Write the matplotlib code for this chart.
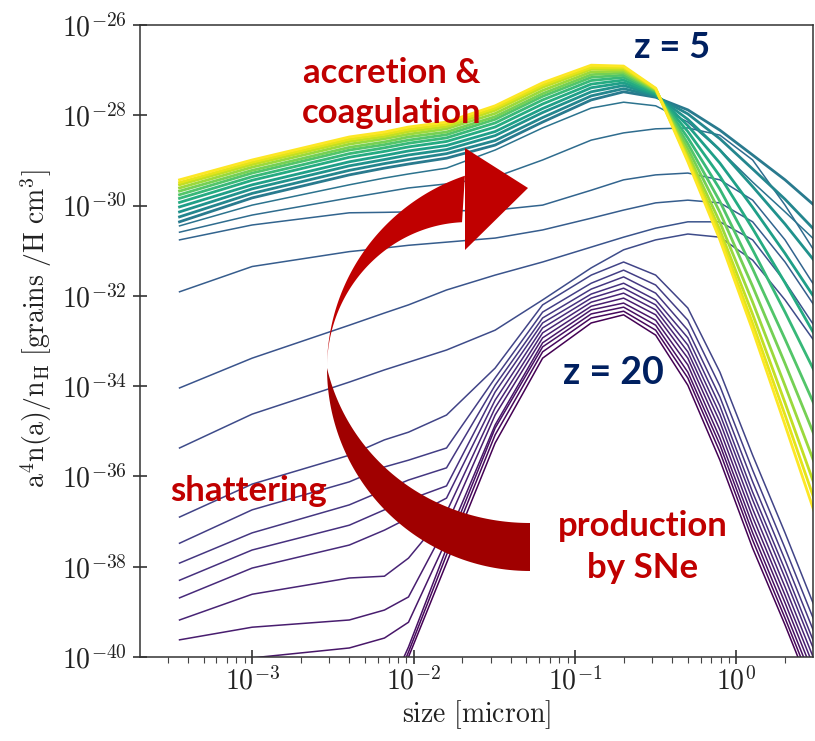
import numpy as np
import matplotlib.pyplot as plt
from matplotlib.patches import Polygon

nan = np.nan

# grain radius grid [micron]
size_micron = [3.55e-4, 1.0e-3, 4.0e-3, 6.6e-3, 9.3e-3, 1.6e-2, 3.2e-2, 6.3e-2,
               0.126, 0.2, 0.316, 0.5, 0.79, 1.26, 2.0, 3.16]

# log10 of a^4 n(a)/n_H, earliest (z = 20) first
production_only = [
    [nan, nan, nan, -41.40, -40.00, -37.92, -35.26, -33.38, -32.60, -32.42, -32.87, -33.98, -35.64, -37.59, -39.29, -41.06],
    [nan, nan, nan, -41.17, -39.89, -37.74, -35.08, -33.24, -32.49, -32.34, -32.76, -33.82, -35.46, -37.41, -39.14, -40.91],
    [nan, nan, nan, -40.95, -39.78, -37.59, -34.93, -33.13, -32.40, -32.25, -32.65, -33.69, -35.30, -37.25, -38.98, -40.75],
]

shattered = [
    [-40.07, -40.02, -39.80, -39.58, -39.23, -37.41, -34.86, -33.04, -32.31, -32.16, -32.54, -33.53, -35.15, -37.08, -38.80, -40.58],
    [-39.62, -39.34, -39.18, -38.96, -38.67, -37.08, -34.64, -32.93, -32.23, -32.05, -32.42, -33.38, -34.97, -36.90, -38.63, -40.40],
    [-39.18, -38.61, -38.25, -38.21, -37.81, -36.79, -34.48, -32.82, -32.14, -31.94, -32.31, -33.24, -34.79, -36.72, -38.45, -40.22],
    [-38.69, -38.03, -37.52, -37.19, -36.92, -36.48, -34.31, -32.71, -32.05, -31.83, -32.20, -33.09, -34.62, -36.52, -38.25, -40.02],
    [-38.30, -37.63, -37.08, -36.74, -36.52, -36.21, -34.13, -32.60, -31.96, -31.72, -32.09, -32.93, -34.44, -36.35, -38.07, -39.85],
    [-37.92, -37.25, -36.63, -36.30, -36.08, -35.81, -33.98, -32.49, -31.85, -31.58, -31.94, -32.76, -34.24, -36.12, -37.85, -39.62],
    [-37.48, -36.74, -36.12, -35.79, -35.64, -35.37, -33.82, -32.36, -31.72, -31.43, -31.76, -32.54, -34.00, -35.86, -37.59, -39.36],
    [-36.90, -36.17, -35.53, -35.19, -35.02, -34.64, -33.60, -32.20, -31.54, -31.25, -31.54, -32.27, -33.69, -35.53, -37.25, -39.03],
    [-35.37, -34.62, -33.91, -33.64, -33.47, -33.20, -32.76, -32.09, -31.38, -30.98, -30.76, -30.63, -30.70, -31.21, -32.09, -33.09],
    [-34.04, -33.38, -32.65, -32.38, -32.20, -31.87, -31.54, -31.25, -30.92, -30.70, -30.50, -30.36, -30.36, -30.76, -31.69, -32.76],
    [-31.91, -31.35, -31.02, -30.94, -30.88, -30.81, -30.72, -30.54, -30.28, -30.10, -29.94, -29.88, -29.94, -30.36, -31.25, -32.31],
    [-30.76, -30.43, -30.16, -30.15, -30.14, -30.12, -30.10, -29.99, -29.66, -29.43, -29.32, -29.28, -29.43, -29.88, -30.76, -31.87],
    [-30.59, -30.21, -29.83, -29.70, -29.61, -29.52, -29.37, -28.99, -28.55, -28.39, -28.30, -28.28, -28.44, -28.99, -29.99, -31.10],
    [-30.45, -29.99, -29.54, -29.39, -29.30, -29.17, -28.77, -28.28, -27.84, -27.71, -27.79, -28.15, -28.77, -29.48, -30.14, -30.81],
]

grown = [
    [-30.36, -29.83, -29.32, -29.17, -29.08, -28.95, -28.66, -28.15, -27.66, -27.48, -27.60, -27.88, -28.33, -28.88, -29.43, -30.05],
    [-30.25, -29.73, -29.22, -29.07, -28.98, -28.85, -28.56, -28.05, -27.57, -27.41, -27.58, -27.97, -28.52, -29.19, -29.86, -30.60],
    [-30.14, -29.63, -29.12, -28.98, -28.88, -28.76, -28.45, -27.94, -27.48, -27.34, -27.56, -28.09, -28.77, -29.58, -30.41, -31.30],
    [-30.03, -29.54, -29.03, -28.89, -28.79, -28.67, -28.36, -27.85, -27.39, -27.28, -27.54, -28.23, -29.06, -30.04, -31.06, -32.13],
    [-29.93, -29.44, -28.93, -28.80, -28.70, -28.58, -28.26, -27.75, -27.31, -27.22, -27.52, -28.36, -29.35, -30.51, -31.71, -32.96],
    [-29.84, -29.36, -28.85, -28.72, -28.62, -28.50, -28.17, -27.66, -27.23, -27.16, -27.49, -28.50, -29.64, -30.98, -32.36, -33.79],
    [-29.76, -29.28, -28.77, -28.65, -28.55, -28.43, -28.09, -27.58, -27.16, -27.11, -27.47, -28.63, -29.91, -31.40, -32.96, -34.55],
    [-29.68, -29.22, -28.71, -28.59, -28.48, -28.37, -28.03, -27.52, -27.10, -27.06, -27.45, -28.74, -30.15, -31.79, -33.50, -35.24],
    [-29.61, -29.15, -28.64, -28.52, -28.42, -28.30, -27.96, -27.45, -27.04, -27.02, -27.43, -28.85, -30.37, -32.14, -33.99, -35.86],
    [-29.54, -29.09, -28.58, -28.47, -28.36, -28.25, -27.89, -27.38, -26.98, -26.98, -27.42, -28.93, -30.54, -32.41, -34.37, -36.35],
    [-29.49, -29.04, -28.53, -28.42, -28.31, -28.20, -27.84, -27.33, -26.94, -26.94, -27.41, -28.98, -30.66, -32.61, -34.64, -36.69],
    [-29.43, -28.99, -28.48, -28.37, -28.26, -28.15, -27.79, -27.28, -26.89, -26.91, -27.40, -29.03, -30.76, -32.76, -34.86, -36.97],
]

x_tick_exponents = [-3, -2, -1, 0]
y_tick_exponents = [-40, -38, -36, -34, -32, -30, -28, -26]

plt.rcParams['mathtext.fontset'] = 'cm'

W, H = 815, 741
fig = plt.figure(figsize=(W / 100, H / 100), dpi=100)
ax = fig.add_axes([140 / W, 1 - 657 / H, 673 / W, 632 / H])


def draw(curves, shades, lw):
    for logs, s in zip(curves, shades):
        ax.plot(size_micron, np.power(10.0, logs), color=plt.cm.viridis(s),
                lw=lw, solid_joinstyle='round')


draw(production_only, [0.0, 0.02, 0.04], 1.1)
draw(shattered, [0.06, 0.08, 0.10, 0.12, 0.14, 0.16, 0.18, 0.20,
                 0.23, 0.26, 0.29, 0.32, 0.35, 0.38], 1.1)
draw(grown, [0.41, 0.46, 0.51, 0.56, 0.61, 0.67, 0.73, 0.79, 0.85, 0.91, 0.96, 1.0], 2.0)

ax.set_xscale('log')
ax.set_yscale('log')
ax.set_xlim(2.02e-4, 2.98)
ax.set_ylim(1e-40, 1e-26)

ax.set_xticks([10.0 ** e for e in x_tick_exponents])
ax.set_xticklabels([rf'$10^{{{e}}}$' for e in x_tick_exponents])
ax.set_yticks([10.0 ** e for e in y_tick_exponents])
ax.set_yticklabels([rf'$10^{{{e}}}$' for e in y_tick_exponents])
ax.yaxis.set_minor_locator(plt.NullLocator())
ax.tick_params(which='major', direction='inout', length=10, width=1.1,
               labelsize=20, colors='#222222')
ax.tick_params(axis='y', which='major', pad=4.5)
ax.tick_params(axis='x', which='major', pad=2)
ax.tick_params(axis='x', which='minor', direction='out', length=4, width=0.8,
               colors='#444444')
for sp in ax.spines.values():
    sp.set_color('#333333')
    sp.set_linewidth(1.1)

ax.set_xlabel(r'$\mathrm{size\ [micron]}$', fontsize=20, color='#222222')
ax.xaxis.set_label_coords(0.5, -0.065)
ax.set_ylabel(r'$\mathrm{a^4n(a)/n_H\ [grains\ /H\ cm^3]}$', fontsize=20,
              color='#222222')
ax.yaxis.set_label_coords(-0.128, 0.52)


# curved arrow, drawn in figure pixels
def to_fig(pts):
    pts = np.asarray(pts, float)
    return np.c_[pts[:, 0] / W, 1 - pts[:, 1] / H]


cx, cy, R = 530, 368, 203
th = np.radians(np.linspace(180, 270, 80))
r_in = R - 48 * np.sin(th - np.pi)
lower = np.vstack([np.c_[cx + R * np.cos(th), cy - R * np.sin(th)],
                   np.c_[cx + r_in * np.cos(th), cy - r_in * np.sin(th)][::-1]])

th_o = np.radians(np.linspace(108.7, 180, 80))
th_i = np.radians(np.linspace(180, 115, 80))
r_i = R - 73 * (1 - np.cos(np.pi - th_i))
upper = np.vstack([np.c_[cx + R * np.cos(th_o), cy - R * np.sin(th_o)],
                   np.c_[cx + r_i * np.cos(th_i), cy - r_i * np.sin(th_i)]])
head = [(465, 148), (528, 188), (465, 250)]

for pts, col in [(lower, '#a00000'), (upper, '#c00000'), (head, '#c00000')]:
    fig.add_artist(Polygon(to_fig(pts), closed=True, transform=fig.transFigure,
                           fc=col, ec='none', zorder=5))

red = '#c00000'
navy = '#002060'
txt = dict(family='Lato', weight='bold', ha='center', va='center', zorder=6)
fig.text(392 / W, 1 - 93 / H, 'accretion &\ncoagulation', color=red,
         fontsize=25, linespacing=1.3, **txt)
fig.text(249 / W, 1 - 491 / H, 'shattering', color=red, fontsize=25, **txt)
fig.text(643 / W, 1 - 547 / H, 'production\nby SNe', color=red, fontsize=25,
         linespacing=1.35, **txt)
fig.text(672 / W, 1 - 48 / H, 'z = 5', color=navy, fontsize=26, **txt)
fig.text(613 / W, 1 - 373 / H, 'z = 20', color=navy, fontsize=27, **txt)

fig.savefig('out.png', dpi=100)
